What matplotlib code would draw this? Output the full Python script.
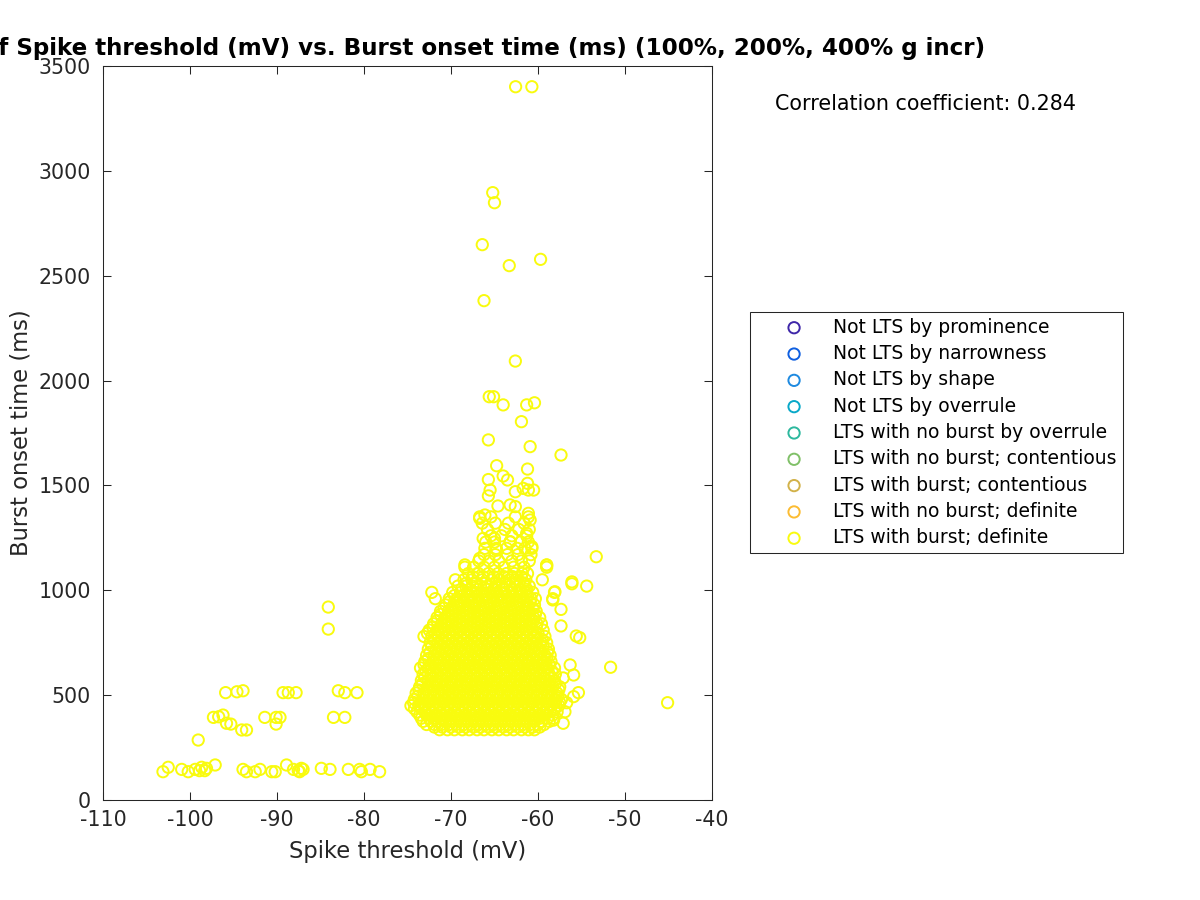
import numpy as np
import matplotlib
matplotlib.use("Agg")
import matplotlib.pyplot as plt

plt.rcParams['font.family'] = ['DejaVu Sans']
plt.rcParams['axes.unicode_minus'] = False

# legend categories and their colours
labels = ["Not LTS by prominence", "Not LTS by narrowness", "Not LTS by shape",
          "Not LTS by overrule", "LTS with no burst by overrule",
          "LTS with no burst; contentious", "LTS with burst; contentious",
          "LTS with no burst; definite", "LTS with burst; definite"]
colors = ["#3e26a8", "#0f5fe0", "#1e8ae0", "#08a8c8", "#2db89e",
          "#80c068", "#d2b24a", "#fcbc32", "#f9fb0e"]

# low group on the left (y ~ 130-170 ms)
low_x = [-103.1, -102.5, -100.95, -100.2, -99.4, -98.65, -98.3, -98.1, -97.1,
         -93.9, -93.5, -92.5, -91.95, -90.6, -90.2, -88.9, -88.1, -87.55, -87.2,
         -87.0, -84.9, -83.9, -81.8, -80.5, -80.3, -79.3, -78.2, -98.9, -87.4]
low_y = [135, 156, 146, 135, 146, 156, 140, 151, 167,
         146, 135, 135, 146, 135, 135, 167, 146, 140, 151,
         146, 151, 146, 146, 146, 135, 146, 135, 140, 135]

# middle left group
mid_x = [-97.3, -96.7, -96.2, -95.8, -95.3, -94.05, -93.5, -91.4, -90.1, -89.65,
         -90.1, -83.5, -82.2, -99.05, -95.9, -94.6, -93.9, -89.3, -88.7, -87.8,
         -82.95, -82.2, -80.8, -84.1, -84.1]
mid_y = [394, 397, 405, 366, 362, 334, 334, 394, 394, 394,
         362, 394, 394, 286, 512, 516, 521, 512, 512, 512,
         521, 512, 512, 920, 815]

# right outliers
right_x = [-45.1, -51.65, -53.3, -54.4, -56.1, -56.1, -57.35, -57.35, -59.0, -55.6,
           -55.2, -56.3, -55.9, -57.1, -55.35, -55.9, -56.7, -56.9, -58.2, -57.1,
           -58.05, -58.3]
right_y = [464, 633, 1160, 1020, 1031, 1040, 909, 830, 1120, 782,
           774, 644, 596, 582, 512, 493, 464, 421, 381, 366,
           993, 954]

# upper tail
tail_x = [-62.57, -60.7, -65.2, -65.0, -66.4, -59.7, -63.3, -66.2, -62.6, -65.6,
          -65.1, -64.0, -61.3, -60.4, -61.9, -65.7, -60.9, -57.35, -64.75, -65.7,
          -61.2, -64.0, -63.5, -65.5, -65.7, -61.2, -61.7, -61.1, -60.5, -62.6,
          -63.2, -62.6, -64.6, -66.7, -66.1, -61.1, -60.9, -66.3, -65.0, -63.2,
          -61.3, -60.7, -68.4, -59.0, -66.9, -66.7, -64.75]
tail_y = [3401, 3401, 2896, 2848, 2648, 2578, 2548, 2381, 2093, 1923,
          1923, 1884, 1884, 1894, 1804, 1717, 1685, 1645, 1594, 1528,
          1578, 1545, 1526, 1478, 1450, 1510, 1486, 1478, 1478, 1470,
          1407, 1399, 1402, 1343, 1359, 1367, 1335, 1247, 1247, 1232,
          1272, 1208, 1121, 1121, 1081, 1152, 1192]

# dense cluster, read row by row (onset time level, thresholds)
core_y = [335, 360, 390, 420, 450, 480, 510, 540, 570, 600, 630, 660, 690, 720,
          750, 780, 810, 840, 870, 900, 930, 960, 990, 1020, 1050, 1080, 1110,
          1140, 1170, 1200, 1230, 1260, 1290, 1320, 1350]
core_x = [
    [-71.3, -70.4, -69.6, -68.7, -67.9, -67.0, -66.2, -65.3, -64.5, -63.6, -62.8, -61.9, -61.1, -60.4],
    [-72.8, -71.9, -71.1, -70.2, -69.4, -68.5, -67.7, -66.8, -66.0, -65.1, -64.3, -63.4, -62.6, -61.7, -60.9, -60.0, -59.3],
    [-73.4, -72.5, -71.7, -70.8, -70.0, -69.1, -68.3, -67.4, -66.6, -65.7, -64.9, -64.0, -63.2, -62.3, -61.5, -60.6, -59.8, -58.9, -58.2],
    [-73.9, -73.0, -72.2, -71.3, -70.5, -69.6, -68.8, -67.9, -67.1, -66.2, -65.4, -64.5, -63.7, -62.8, -62.0, -61.1, -60.3, -59.4, -58.6, -57.8],
    [-74.6, -73.7, -72.9, -72.0, -71.2, -70.3, -69.5, -68.6, -67.8, -66.9, -66.1, -65.2, -64.4, -63.5, -62.7, -61.8, -61.0, -60.1, -59.3, -58.4, -57.6],
    [-74.2, -73.3, -72.5, -71.6, -70.8, -69.9, -69.1, -68.2, -67.4, -66.5, -65.7, -64.8, -64.0, -63.1, -62.3, -61.4, -60.6, -59.7, -58.9, -58.0, -57.3],
    [-74.0, -73.1, -72.3, -71.4, -70.6, -69.7, -68.9, -68.0, -67.2, -66.3, -65.5, -64.6, -63.8, -62.9, -62.1, -61.2, -60.4, -59.5, -58.7, -57.8],
    [-73.6, -72.7, -71.9, -71.0, -70.2, -69.3, -68.5, -67.6, -66.8, -65.9, -65.1, -64.2, -63.4, -62.5, -61.7, -60.8, -60.0, -59.1, -58.3, -57.5],
    [-73.4, -72.6, -71.7, -70.9, -70.0, -69.2, -68.3, -67.5, -66.6, -65.8, -64.9, -64.1, -63.2, -62.4, -61.5, -60.7, -59.8, -59.0, -58.1],
    [-73.2, -72.3, -71.5, -70.6, -69.8, -68.9, -68.1, -67.2, -66.4, -65.5, -64.7, -63.8, -63.0, -62.1, -61.3, -60.4, -59.6, -58.7, -58.0],
    [-73.5, -72.6, -71.8, -70.9, -70.1, -69.2, -68.4, -67.5, -66.7, -65.8, -65.0, -64.1, -63.3, -62.4, -61.6, -60.7, -59.9, -59.0, -58.1],
    [-73.0, -72.1, -71.3, -70.4, -69.6, -68.7, -67.9, -67.0, -66.2, -65.3, -64.5, -63.6, -62.8, -61.9, -61.1, -60.2, -59.4, -58.5],
    [-72.8, -71.9, -71.1, -70.2, -69.4, -68.5, -67.7, -66.8, -66.0, -65.1, -64.3, -63.4, -62.6, -61.7, -60.9, -60.0, -59.2, -58.6],
    [-72.6, -71.7, -70.9, -70.0, -69.2, -68.3, -67.5, -66.6, -65.8, -64.9, -64.1, -63.2, -62.4, -61.5, -60.7, -59.8, -58.8],
    [-72.4, -71.5, -70.7, -69.8, -69.0, -68.1, -67.3, -66.4, -65.6, -64.7, -63.9, -63.0, -62.2, -61.3, -60.5, -59.6, -59.0],
    [-73.1, -72.2, -71.4, -70.5, -69.7, -68.8, -68.0, -67.1, -66.3, -65.4, -64.6, -63.7, -62.9, -62.0, -61.2, -60.3, -59.2],
    [-72.5, -71.6, -70.8, -69.9, -69.1, -68.2, -67.4, -66.5, -65.7, -64.8, -64.0, -63.1, -62.3, -61.4, -60.6, -59.4],
    [-72.0, -71.1, -70.3, -69.4, -68.6, -67.7, -66.9, -66.0, -65.2, -64.3, -63.5, -62.6, -61.8, -60.9, -60.1, -59.6],
    [-71.6, -70.7, -69.9, -69.0, -68.2, -67.3, -66.5, -65.6, -64.8, -63.9, -63.1, -62.2, -61.4, -60.5, -59.8],
    [-71.2, -70.3, -69.5, -68.6, -67.8, -66.9, -66.1, -65.2, -64.4, -63.5, -62.7, -61.8, -61.0, -60.2],
    [-70.6, -69.7, -68.9, -68.0, -67.2, -66.3, -65.5, -64.6, -63.8, -62.9, -62.1, -61.2, -60.4],
    [-71.8, -70.2, -69.3, -68.5, -67.6, -66.8, -65.9, -65.1, -64.2, -63.4, -62.5, -61.7, -60.8, -60.3, -58.3],
    [-72.2, -69.8, -68.9, -68.1, -67.2, -66.4, -65.5, -64.7, -63.8, -63.0, -62.1, -61.3, -60.6, -58.1],
    [-69.2, -68.3, -67.5, -66.6, -65.8, -64.9, -64.1, -63.2, -62.4, -61.5, -61.0],
    [-69.5, -68.5, -67.6, -66.4, -65.3, -64.4, -63.3, -62.5, -61.4, -59.5],
    [-68.0, -66.9, -65.7, -64.6, -63.6, -62.7, -61.8, -61.2],
    [-68.4, -67.4, -66.2, -65.0, -63.9, -62.8, -61.6, -59.0],
    [-66.8, -65.6, -64.5, -63.0, -61.9, -61.0],
    [-66.2, -64.9, -63.5, -62.3, -60.8],
    [-66.1, -64.8, -63.6, -62.4, -61.5, -60.7],
    [-66.0, -65.0, -63.2, -62.0, -61.1],
    [-65.4, -64.2, -63.0, -61.3],
    [-65.8, -63.8, -62.2, -61.0],
    [-66.4, -64.9, -63.4, -61.6],
    [-66.7, -65.4, -62.6, -61.1],
]

# second pass over the cluster, rows in between the ones above
core2_y = [348, 375, 405, 435, 465, 495, 525, 555, 585, 615, 645, 675, 705, 735,
           765, 795, 825, 855, 885, 915, 945, 975, 1005, 1035, 1065]
core2_x = [
    [-71.9, -71.0, -70.0, -69.1, -68.3, -67.4, -66.6, -65.7, -64.9, -64.0, -63.2, -62.3, -61.5, -60.6, -59.8],
    [-73.2, -72.3, -71.5, -70.6, -69.8, -68.9, -68.1, -67.2, -66.4, -65.5, -64.7, -63.8, -63.0, -62.1, -61.3, -60.4, -59.6, -58.7],
    [-73.6, -72.8, -71.9, -71.1, -70.2, -69.4, -68.5, -67.7, -66.8, -66.0, -65.1, -64.3, -63.4, -62.6, -61.7, -60.9, -60.0, -59.2, -58.3],
    [-74.2, -73.4, -72.5, -71.7, -70.8, -70.0, -69.1, -68.3, -67.4, -66.6, -65.7, -64.9, -64.0, -63.2, -62.3, -61.5, -60.6, -59.8, -58.9, -58.1],
    [-74.3, -73.5, -72.6, -71.8, -70.9, -70.1, -69.2, -68.4, -67.5, -66.7, -65.8, -65.0, -64.1, -63.3, -62.4, -61.6, -60.7, -59.9, -59.0, -58.2, -57.5],
    [-73.8, -72.9, -72.1, -71.2, -70.4, -69.5, -68.7, -67.8, -67.0, -66.1, -65.3, -64.4, -63.6, -62.7, -61.9, -61.0, -60.2, -59.3, -58.5, -57.7],
    [-73.7, -72.8, -72.0, -71.1, -70.3, -69.4, -68.6, -67.7, -66.9, -66.0, -65.2, -64.3, -63.5, -62.6, -61.8, -60.9, -60.1, -59.2, -58.4, -57.6],
    [-73.3, -72.4, -71.6, -70.7, -69.9, -69.0, -68.2, -67.3, -66.5, -65.6, -64.8, -63.9, -63.1, -62.2, -61.4, -60.5, -59.7, -58.8, -58.0],
    [-73.0, -72.1, -71.3, -70.4, -69.6, -68.7, -67.9, -67.0, -66.2, -65.3, -64.5, -63.6, -62.8, -61.9, -61.1, -60.2, -59.4, -58.5],
    [-72.9, -72.0, -71.2, -70.3, -69.5, -68.6, -67.8, -66.9, -66.1, -65.2, -64.4, -63.5, -62.7, -61.8, -61.0, -60.1, -59.3, -58.4],
    [-73.1, -72.3, -71.4, -70.6, -69.7, -68.9, -68.0, -67.2, -66.3, -65.5, -64.6, -63.8, -62.9, -62.1, -61.2, -60.4, -59.5, -58.7],
    [-72.6, -71.7, -70.9, -70.0, -69.2, -68.3, -67.5, -66.6, -65.8, -64.9, -64.1, -63.2, -62.4, -61.5, -60.7, -59.8, -59.0],
    [-72.4, -71.5, -70.7, -69.8, -69.0, -68.1, -67.3, -66.4, -65.6, -64.7, -63.9, -63.0, -62.2, -61.3, -60.5, -59.6, -58.9],
    [-72.2, -71.3, -70.5, -69.6, -68.8, -67.9, -67.1, -66.2, -65.4, -64.5, -63.7, -62.8, -62.0, -61.1, -60.3, -59.4],
    [-72.0, -71.1, -70.3, -69.4, -68.6, -67.7, -66.9, -66.0, -65.2, -64.3, -63.5, -62.6, -61.8, -60.9, -60.1, -59.5],
    [-72.7, -71.8, -71.0, -70.1, -69.3, -68.4, -67.6, -66.7, -65.9, -65.0, -64.2, -63.3, -62.5, -61.6, -60.8, -60.0],
    [-72.1, -71.2, -70.4, -69.5, -68.7, -67.8, -67.0, -66.1, -65.3, -64.4, -63.6, -62.7, -61.9, -61.0, -60.2],
    [-71.6, -70.7, -69.9, -69.0, -68.2, -67.3, -66.5, -65.6, -64.8, -63.9, -63.1, -62.2, -61.4, -60.5],
    [-71.2, -70.3, -69.5, -68.6, -67.8, -66.9, -66.1, -65.2, -64.4, -63.5, -62.7, -61.8, -61.0, -60.3],
    [-70.8, -69.9, -69.1, -68.2, -67.4, -66.5, -65.7, -64.8, -64.0, -63.1, -62.3, -61.4, -60.6],
    [-70.2, -69.3, -68.5, -67.6, -66.8, -65.9, -65.1, -64.2, -63.4, -62.5, -61.7, -60.9],
    [-69.6, -68.7, -67.9, -67.0, -66.2, -65.3, -64.5, -63.6, -62.8, -62.0, -61.2],
    [-68.8, -67.8, -66.9, -65.9, -65.0, -64.0, -63.0, -62.1, -61.3],
    [-68.2, -67.1, -66.0, -64.8, -63.7, -62.6, -61.6],
    [-67.5, -66.3, -65.1, -63.9, -62.9, -61.9],
]

cx, cy = [], []
for yv, xs in list(zip(core_y, core_x)) + list(zip(core2_y, core2_x)):
    cx += xs
    cy += [yv] * len(xs)

all_x = np.array(low_x + mid_x + right_x + tail_x + cx)
all_y = np.array(low_y + mid_y + right_y + tail_y + cy)

fig = plt.figure(figsize=(12, 9), dpi=100)
ax = fig.add_axes([0.0858, 0.1111, 0.5075, 0.8156])

dark = (0.15, 0.15, 0.15)
for lab, col in zip(labels[:-1], colors[:-1]):
    ax.scatter([], [], s=66, facecolors='none', edgecolors=col, linewidths=1.4, label=lab)
ax.scatter(all_x, all_y, s=66, facecolors='none', edgecolors=colors[-1],
           linewidths=1.4, label=labels[-1])

ax.set_xlim(-110, -40)
ax.set_ylim(0, 3500)
ax.set_xticks(range(-110, -39, 10))
ax.set_yticks(range(0, 3501, 500))
ax.tick_params(direction='in', length=6, width=0.75, top=True, right=True,
               labelsize=14.8, colors=dark)
ax.tick_params(axis='x', pad=7)
ax.tick_params(axis='y', pad=8.6)
for sp in ax.spines.values():
    sp.set_color(dark)
    sp.set_linewidth(0.75)

ax.set_xlabel("Spike threshold (mV)", fontsize=16.3, color=dark, labelpad=7.5)
ax.set_ylabel("Burst onset time (ms)", fontsize=16.3, color=dark, labelpad=4)
ax.set_title("Correlation of Spike threshold (mV) vs. Burst onset time (ms) (100%, 200%, 400% g incr)",
             fontsize=16.6, fontweight='bold', pad=8)

fig.text(0.646, 0.8844, "Correlation coefficient: 0.284", fontsize=14.9,
         va='center', ha='left')

leg = ax.legend(loc='upper left', bbox_to_anchor=(0.625, 0.6533),
                bbox_transform=fig.transFigure, fontsize=13.5, frameon=True,
                fancybox=False, framealpha=1, edgecolor=dark, borderpad=0.3,
                labelspacing=0.39, handlelength=4.1, handletextpad=0.05,
                borderaxespad=0, scatterpoints=1)
leg.get_frame().set_linewidth(0.75)

fig.savefig("out.png", dpi=100)
